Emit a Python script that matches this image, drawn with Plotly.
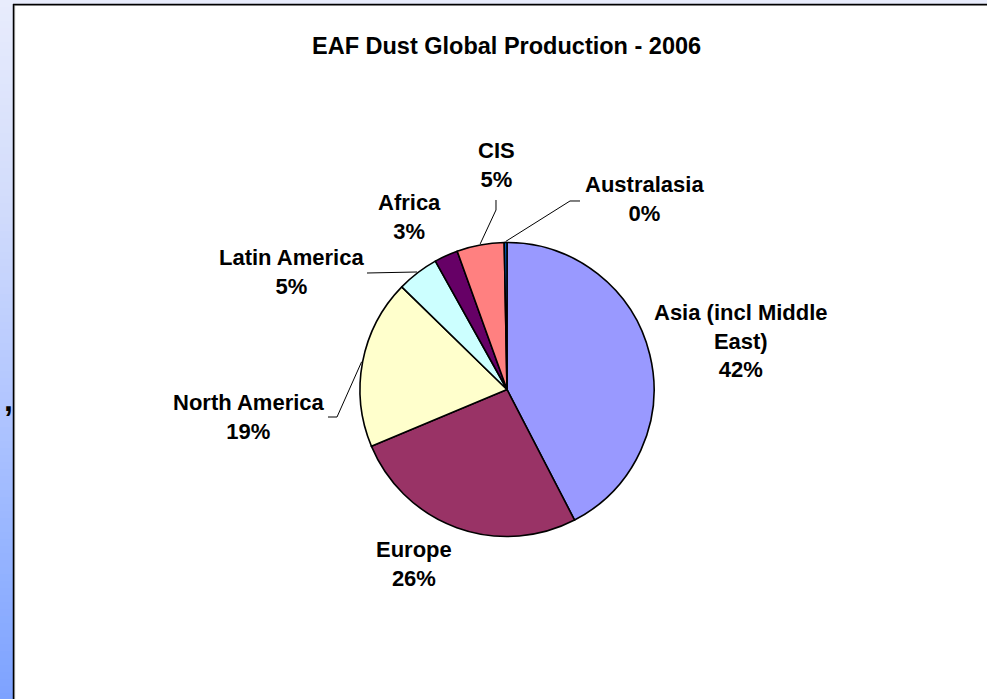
import math
import plotly.graph_objects as go

# ---------------- data ----------------
regions = ["Asia (incl Middle East)", "Europe", "North America", "Latin America",
           "Africa", "CIS", "Australasia"]
values = [42.4, 26.3, 18.6, 4.6, 2.6, 5.2, 0.3]
label_lines = ["Asia (incl Middle<br>East)", "Europe", "North America", "Latin America",
               "Africa", "CIS", "Australasia"]
colors = ["#9999FF", "#993366", "#FFFFCC", "#CCFFFF", "#660066", "#FF8080", "#0066CC"]
title_text = "EAF Dust Global Production - 2006"

# ---------------- layout helpers ----------------
W, H = 987, 699
def fx(x):
    return x / W
def fy(y):
    return 1 - y / H

FONT = "Liberation Sans, Arial, Helvetica, sans-serif"
cx, cy, R = 507, 389.5, 147  # pie centre / radius in px

# label block centres (px)
label_pos = [(741, 341), (414, 564), (249, 417), (291, 272), (409, 217), (497, 165), (644, 199)]
# leader lines: label-side points (px); pie-side end computed from values
leader_start = {2: [(328, 417), (337, 417)], 3: [(367, 273)],
                5: [(496, 200), (496, 210)], 6: [(580, 201), (570, 201)]}

fig = go.Figure()
fig.add_trace(go.Pie(
    labels=regions, values=values, sort=False, direction="clockwise", rotation=0,
    marker=dict(colors=colors, line=dict(color="#000000", width=1.6)),
    textinfo="none", hoverinfo="label+percent", showlegend=False,
    domain=dict(x=[fx(cx - R), fx(cx + R)], y=[fy(cy + R), fy(cy - R)]),
))

total = sum(values)
annotations = []
shapes = []

# title
annotations.append(dict(text=title_text, x=fx(506), y=fy(46), xref="paper", yref="paper",
                        xanchor="center", yanchor="middle", showarrow=False,
                        font=dict(family=FONT, size=23.5, color="#000000", weight="bold")))

cum = 0.0
for i, v in enumerate(values):
    pct = int(math.floor(v / total * 100 + 0.5))
    mid = (cum + v / 2) / total * 2 * math.pi
    cum += v
    lx, ly = label_pos[i]
    annotations.append(dict(text=f"{label_lines[i]}<br>{pct}%", x=fx(lx), y=fy(ly),
                            xref="paper", yref="paper", xanchor="center", yanchor="middle",
                            showarrow=False, align="center",
                            font=dict(family=FONT, size=22, color="#000000", weight="bold")))
    if i in leader_start:
        ex = cx + (R + 1) * math.sin(mid)
        ey = cy - (R + 1) * math.cos(mid)
        pts = leader_start[i] + [(ex, ey)]
        path = "M " + " L ".join(f"{fx(px):.5f},{fy(py):.5f}" for px, py in pts)
        shapes.append(dict(type="path", path=path, xref="paper", yref="paper",
                           line=dict(color="#000000", width=1)))

# slide background gradient (left strip + top strip)
stops = [(0, (232, 236, 252)), (200, (210, 220, 251)), (400, (178, 198, 255)),
         (550, (150, 180, 255)), (699, (125, 162, 255))]
def grad(y):
    for (y0, c0), (y1, c1) in zip(stops[:-1], stops[1:]):
        if y <= y1:
            t = (y - y0) / (y1 - y0)
            return "rgb(%d,%d,%d)" % tuple(round(a + (b - a) * t) for a, b in zip(c0, c1))
    return "rgb(%d,%d,%d)" % stops[-1][1]

step = 7
for y in range(0, H, step):
    shapes.append(dict(type="rect", xref="paper", yref="paper", x0=fx(0), x1=fx(13),
                       y0=fy(min(y + step, H)), y1=fy(y), fillcolor=grad(y + step / 2),
                       line=dict(width=0), layer="below"))
shapes.append(dict(type="rect", xref="paper", yref="paper", x0=fx(13), x1=1,
                   y0=fy(4), y1=1, fillcolor=grad(2), line=dict(width=0), layer="below"))
# chart-area border
shapes.append(dict(type="line", xref="paper", yref="paper", x0=fx(13.5), x1=fx(13.5),
                   y0=0, y1=fy(4), line=dict(color="#000000", width=1.5)))
shapes.append(dict(type="line", xref="paper", yref="paper", x0=fx(14.6), x1=fx(14.6),
                   y0=0, y1=fy(5.5), line=dict(color="#808080", width=1)))
shapes.append(dict(type="line", xref="paper", yref="paper", x0=fx(13), x1=1,
                   y0=fy(4.7), y1=fy(4.7), line=dict(color="#000000", width=1.7)))

# stray comma from slide text behind the chart
annotations.append(dict(text=",", x=fx(8), y=fy(400), xref="paper", yref="paper",
                        xanchor="center", yanchor="middle", showarrow=False,
                        font=dict(family=FONT, size=32, color="#000000", weight="bold")))

fig.update_layout(width=W, height=H, autosize=False,
                  margin=dict(l=0, r=0, t=0, b=0, pad=0),
                  paper_bgcolor="#FFFFFF", plot_bgcolor="#FFFFFF",
                  annotations=annotations, shapes=shapes)

fig.write_html("out.html")
